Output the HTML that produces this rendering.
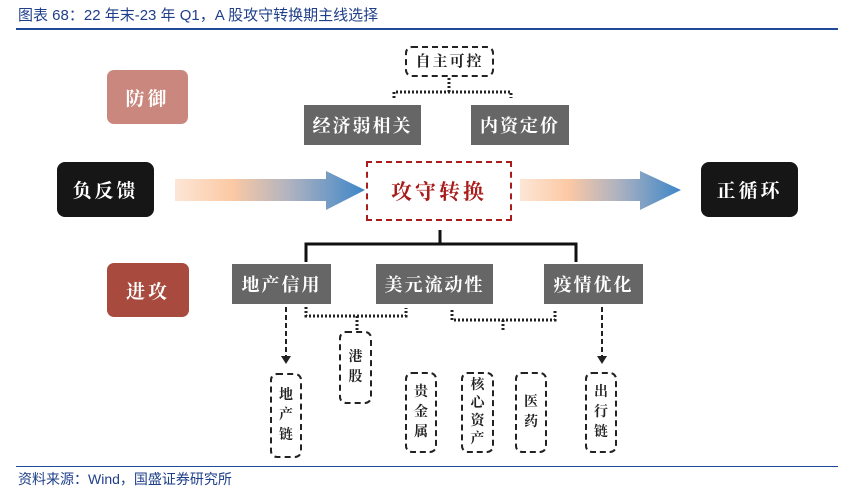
<!DOCTYPE html>
<html><head><meta charset="utf-8"><style>
body{margin:0;width:858px;height:497px;background:#fff;overflow:hidden;position:relative;font-family:"Liberation Sans","Noto Serif CJK SC",serif}
.a{position:absolute;box-sizing:border-box;display:flex;align-items:center;justify-content:center;text-align:center}
.s{font-family:"Liberation Serif","Noto Serif CJK SC",serif;font-weight:bold}
.g{background:#666;color:#fff;font-size:18px;letter-spacing:2px}
.d{border:2px dashed #222;border-radius:7px;font-size:14px;color:#222;line-height:20px}
</style></head><body>
<div class="a" style="left:18px;top:2px;height:24px;font-size:15px;color:#1f3f8a;font-family:'Liberation Sans','Noto Sans CJK SC',sans-serif;justify-content:flex-start">图表 68：22 年末-23 年 Q1，A 股攻守转换期主线选择</div>
<div style="position:absolute;left:16px;top:28px;width:822px;height:2px;background:#1f4a9a"></div>
<div style="position:absolute;left:16px;top:466px;width:822px;height:1px;background:#1f4a9a"></div>
<div class="a" style="left:18px;top:468px;height:22px;font-size:14px;color:#1f3f8a;font-family:'Liberation Sans','Noto Sans CJK SC',sans-serif;justify-content:flex-start">资料来源：Wind，国盛证券研究所</div>

<svg style="position:absolute;left:0;top:0" width="858" height="497">
<defs>
<linearGradient id="gr" x1="0" x2="1" y1="0" y2="0"><stop offset="0" stop-color="#fde6d6"/><stop offset="0.3" stop-color="#fcc9a4"/><stop offset="0.6" stop-color="#b0b3c0"/><stop offset="1" stop-color="#3d86c8"/></linearGradient>
</defs>
<polygon points="175,179 326,179 326,171 365,190 326,210 326,201 175,201" fill="url(#gr)"/>
<polygon points="520,179 640,179 640,171 681,190 640,210 640,201 520,201" fill="url(#gr)"/>
<g stroke="#222" stroke-width="3" stroke-dasharray="2,2" fill="none">
<path d="M394,98 V92 H511 V98 M449,92 V77"/>
<path d="M306,307 V316 H406 V308 M357,316 V330"/>
<path d="M452,310 V320 H555 V310 M503,320 V330"/>
</g>
<g stroke="#111" stroke-width="3" fill="none">
<path d="M306,262 V244 H576 V262 M440,244 V230"/>
</g>
<g stroke="#222" stroke-width="2" stroke-dasharray="5,3" fill="none">
<path d="M286,307 V356"/><path d="M602,307 V356"/>
</g>
<polygon points="281,356 291,356 286,364" fill="#222"/>
<polygon points="597,356 607,356 602,364" fill="#222"/>
</svg>

<div class="a s" style="left:107px;top:70px;width:81px;height:54px;background:#c9877d;border-radius:7px;color:#fff;font-size:19px;letter-spacing:3px">防御</div>
<div class="a s" style="left:107px;top:263px;width:82px;height:54px;background:#a84a3d;border-radius:7px;color:#fff;font-size:19px;letter-spacing:3px">进攻</div>
<div class="a s" style="left:57px;top:162px;width:97px;height:55px;background:#161616;border-radius:8px;color:#fff;font-size:19px;letter-spacing:3px">负反馈</div>
<div class="a s" style="left:701px;top:162px;width:97px;height:55px;background:#161616;border-radius:8px;color:#fff;font-size:19px;letter-spacing:3px">正循环</div>
<div class="a s" style="left:366px;top:161px;width:146px;height:60px;border:2px dashed #a81c1c;color:#a81c1c;font-size:21px;letter-spacing:3px">攻守转换</div>
<div class="a s d" style="left:405px;top:46px;width:89px;height:31px;font-size:15px;letter-spacing:2px">自主可控</div>
<div class="a s g" style="left:304px;top:105px;width:117px;height:40px">经济弱相关</div>
<div class="a s g" style="left:471px;top:105px;width:98px;height:40px">内资定价</div>
<div class="a s g" style="left:232px;top:264px;width:99px;height:40px">地产信用</div>
<div class="a s g" style="left:376px;top:264px;width:117px;height:40px">美元流动性</div>
<div class="a s g" style="left:544px;top:264px;width:99px;height:40px">疫情优化</div>
<div class="a s d" style="left:270px;top:373px;width:32px;height:85px">地<br>产<br>链</div>
<div class="a s d" style="left:339px;top:331px;width:33px;height:73px">港<br>股</div>
<div class="a s d" style="left:405px;top:372px;width:32px;height:81px">贵<br>金<br>属</div>
<div class="a s d" style="left:461px;top:372px;width:33px;height:81px;line-height:18px">核<br>心<br>资<br>产</div>
<div class="a s d" style="left:515px;top:372px;width:32px;height:81px">医<br>药</div>
<div class="a s d" style="left:585px;top:372px;width:32px;height:81px">出<br>行<br>链</div>
</body></html>
